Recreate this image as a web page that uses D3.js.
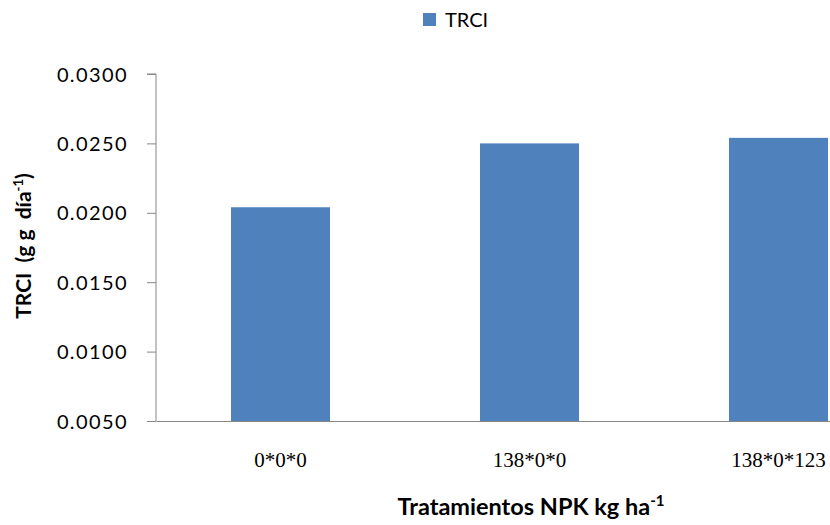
<!DOCTYPE html>
<html><head><meta charset="utf-8">
<script src="https://cdn.jsdelivr.net/npm/d3@7"></script>
<style>body{margin:0;background:#fff}svg{display:block}</style>
</head><body>
<svg id="c" width="830" height="525"></svg>
<script>
const categories = ["0*0*0", "138*0*0", "138*0*123"];
const trciValues = [0.0204, 0.0250, 0.0254];
const yTicks = [0.005, 0.010, 0.015, 0.020, 0.025, 0.030];
const seriesName = "TRCI";

(function () {
const svg = d3.select("#c");
const pLeft = 156, pRight = 903, pTop = 74, pBottom = 421;
const x = d3.scaleBand().domain(categories).range([pLeft, pRight]).paddingInner(0.6024).paddingOuter(0.3012);
const y = d3.scaleLinear().domain([0.005, 0.030]).range([pBottom, pTop]);
const axisColor = "#868686";
const sans = "Lato, 'Open Sans', sans-serif";

// y axis
const ya = svg.append("g").attr("transform", `translate(${pLeft},0)`)
  .call(d3.axisLeft(y).tickValues(yTicks).tickSize(9).tickPadding(19).tickFormat(d3.format(".4f")));
ya.select(".domain").attr("stroke", axisColor).attr("d", `M-9,${pTop}H0V${pBottom}`);
ya.selectAll(".tick line").attr("stroke", axisColor);
ya.selectAll(".tick text").attr("font-family", sans).attr("font-size", 20)
  .attr("letter-spacing", 1.4).attr("fill", "#000").attr("dy", "0.35em");

// bars
svg.append("g").selectAll("rect").data(categories).join("rect")
  .attr("x", d => x(d)).attr("width", x.bandwidth())
  .attr("y", (d, i) => y(trciValues[i])).attr("height", (d, i) => pBottom - y(trciValues[i]))
  .attr("fill", "#4F81BD");

// x axis
const xa = svg.append("g").attr("transform", `translate(0,${pBottom})`)
  .call(d3.axisBottom(x).tickSize(0).tickPadding(31));
xa.select(".domain").attr("stroke", axisColor);
xa.selectAll(".tick text").attr("font-family", "'Liberation Serif', 'DejaVu Serif', serif")
  .attr("font-size", 21).attr("fill", "#000");

// legend
svg.append("rect").attr("x", 423).attr("y", 13).attr("width", 13).attr("height", 13).attr("fill", "#4F81BD");
svg.append("text").attr("x", 445).attr("y", 27).attr("font-family", sans)
  .attr("font-size", 20).text(seriesName);

// y title
const yt = svg.append("text").attr("transform", "translate(31,246) rotate(-90)")
  .attr("text-anchor", "middle").attr("font-family", sans).style("white-space", "pre")
  .attr("font-size", 21).attr("font-weight", "bold");
yt.append("tspan").text("TRCI  (g g  día");
yt.append("tspan").attr("font-size", 13).attr("dy", -8).text("-1");
yt.append("tspan").attr("dy", 8).text(")");

// x title
const xt = svg.append("text").attr("x", 531).attr("y", 515).attr("text-anchor", "middle")
  .attr("font-family", sans).attr("font-size", 23.5).attr("font-weight", "bold");
xt.append("tspan").text("Tratamientos NPK kg ha");
xt.append("tspan").attr("font-size", 15).attr("dy", -9).text("-1");
})();
</script>
</body></html>
